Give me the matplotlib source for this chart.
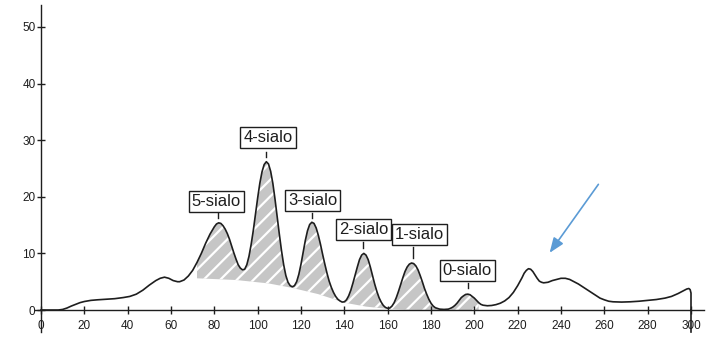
import matplotlib.pyplot as plt

plt.rcParams['font.family'] = ['Liberation Sans', 'DejaVu Sans']
plt.rcParams['hatch.linewidth'] = 1.6

# chromatogram trace (retention time vs signal)
time = [0, 8, 10, 12, 14, 16, 18, 20, 23, 26, 30, 34, 38, 41, 44, 47, 50, 53, 55, 57, 59, 61, 63,
        64, 66, 68, 70, 72, 74, 76, 78, 80, 81, 82, 83, 84, 85, 86, 87, 88, 89, 90, 91, 92, 93, 94, 95,
        96, 97, 98, 99, 100, 101, 102, 103, 104, 105, 106, 107, 108, 109, 110, 111, 112, 113, 114, 115, 116, 117,
        118, 119, 120, 121, 122, 123, 124, 125, 126, 127, 128, 129, 130, 131, 132, 133, 134, 135, 136, 137, 138, 139, 140,
        141, 142, 143, 144, 145, 146, 147, 148, 149, 150, 151, 152, 153, 154, 155, 156, 157, 158, 159, 160, 161,
        162, 163, 164, 165, 166, 167, 168, 169, 170, 171, 172, 173, 174, 175, 176, 177, 178, 179, 180, 181, 182, 184, 186, 188,
        189, 190, 191, 192, 193, 194, 195, 196, 197, 198, 199, 200, 201, 202, 203, 204, 206, 208, 210, 212, 214, 216, 218,
        220, 222, 223, 224, 225, 226, 227, 228, 229, 230, 231, 232, 234, 236, 238, 240, 242, 244, 246, 248, 250, 252,
        254, 256, 258, 260, 262, 264, 268, 272, 276, 280, 284, 288, 291, 294, 296, 298, 299, 299.6, 300, 300]
signal = [0, 0, 0.1, 0.35, 0.7, 1.0, 1.3, 1.5, 1.7, 1.8, 1.9, 2.0, 2.2, 2.4, 2.8, 3.5, 4.4, 5.2, 5.6, 5.8, 5.6, 5.2, 5.0,
          5.0, 5.3, 6.0, 7.0, 8.4, 10.0, 11.8, 13.4, 14.7, 15.2, 15.4, 15.3, 14.9, 14.3, 13.5, 12.5, 11.3, 10.1, 9.0, 8.0, 7.4, 7.1, 7.2, 8.0,
          9.5, 11.6, 14.1, 17.0, 19.8, 22.4, 24.4, 25.7, 26.2, 25.8, 24.5, 22.4, 19.6, 16.5, 13.4, 10.5, 8.0, 6.1, 4.9, 4.3, 4.1, 4.3,
          5.0, 6.3, 8.1, 10.2, 12.3, 14.0, 15.1, 15.5, 15.3, 14.5, 13.2, 11.6, 9.8, 8.1, 6.5, 5.1, 4.0, 3.1, 2.4, 1.9, 1.6, 1.4, 1.45,
          1.8, 2.5, 3.5, 4.8, 6.2, 7.6, 8.9, 9.7, 10.0, 9.7, 8.9, 7.6, 6.1, 4.6, 3.3, 2.2, 1.4, 0.8, 0.45, 0.3, 0.35,
          0.7, 1.3, 2.2, 3.3, 4.5, 5.7, 6.8, 7.6, 8.1, 8.3, 8.2, 7.8, 7.1, 6.1, 5.0, 3.8, 2.8, 1.9, 1.2, 0.7, 0.4, 0.15, 0.1, 0.15,
          0.3, 0.5, 0.8, 1.2, 1.7, 2.2, 2.5, 2.75, 2.8, 2.7, 2.4, 2.1, 1.7, 1.3, 1.0, 0.85, 0.75, 0.8, 0.95, 1.2, 1.6, 2.2, 3.1,
          4.3, 5.7, 6.5, 7.0, 7.3, 7.2, 6.8, 6.2, 5.6, 5.1, 4.9, 4.8, 4.9, 5.2, 5.4, 5.6, 5.6, 5.4, 5.0, 4.6, 4.1, 3.6,
          3.1, 2.6, 2.1, 1.8, 1.55, 1.45, 1.4, 1.45, 1.55, 1.7, 1.85, 2.1, 2.4, 2.9, 3.3, 3.7, 3.8, 3.6, 3.0, 0]
assert len(time) == len(signal)

# dashed baseline under the sialo peaks (right to left)
base_time = [184, 170, 160, 150, 140, 128, 116, 105, 90, 72]
base_signal = [0, 0.05, 0.2, 0.6, 1.3, 2.8, 3.9, 4.7, 5.3, 5.6]

labels = ['5-sialo', '4-sialo', '3-sialo', '2-sialo', '1-sialo', '0-sialo']
label_x = [81, 104.8, 125.3, 148.8, 174.7, 196.8]
label_y = [19.1, 30.4, 19.4, 14.2, 13.3, 7.0]
stem_x = [81.7, 104, 125.3, 148.8, 171.6, 197]
stem_top = [17.1, 27.9, 17.1, 12.1, 11.1, 4.8]
stem_bot = [16.3, 27.0, 16.3, 11.0, 9.2, 3.9]

xticks = list(range(0, 301, 20))
yticks = list(range(0, 51, 10))

ink = '#1e1e1e'

fig = plt.figure(figsize=(7.11, 3.37), dpi=100)
ax = fig.add_axes([0, 0, 1, 1])
ax.set_xlim(-18.92, 309.23)
ax.set_ylim(-4.77, 54.77)

# hatched areas for sialo peaks
i0 = time.index(72)
i1 = time.index(184)
ax.fill(time[i0:i1 + 1] + base_time, signal[i0:i1 + 1] + base_signal,
        facecolor='#c6c6c6', edgecolor='white', hatch='//', linewidth=0, zorder=1)
j0 = time.index(189)
j1 = time.index(202)
ax.fill(time[j0:j1 + 1] + [202, 189], signal[j0:j1 + 1] + [0, 0],
        facecolor='#c6c6c6', edgecolor='white', hatch='//', linewidth=0, zorder=1)

ax.plot(time, signal, color=ink, lw=1.2, zorder=3)
ax.plot([300, 300], [0, -3.8], color=ink, lw=1.2, zorder=3, clip_on=False)

# axes drawn through the origin
for s in ['top', 'right']:
    ax.spines[s].set_visible(False)
ax.spines['left'].set_position(('data', 0))
ax.spines['bottom'].set_position(('data', 0))
ax.spines['left'].set_bounds(-3.8, 53.8)
ax.spines['bottom'].set_bounds(-2.8, 306)
for s in ['left', 'bottom']:
    ax.spines[s].set_color(ink)
    ax.spines[s].set_linewidth(1.0)
ax.set_xticks(xticks)
ax.set_yticks(yticks)
ax.tick_params(direction='inout', length=6, width=1.0, color=ink,
               labelsize=8.5, labelcolor=ink)
ax.tick_params(axis='x', pad=4)
ax.tick_params(axis='y', pad=1)

for name, x, y in zip(labels, label_x, label_y):
    ax.text(x, y, name, ha='center', va='center', fontsize=12, color=ink, zorder=5,
            bbox=dict(boxstyle='square,pad=0.18', fc='white', ec=ink, lw=1.0))
for x, y0, y1 in zip(stem_x, stem_top, stem_bot):
    ax.plot([x, x], [y0, y1], color=ink, lw=1.0, zorder=4)

ax.annotate('', xy=(234.0, 9.7), xytext=(258.0, 22.6),
            arrowprops=dict(arrowstyle='-|>,head_length=0.9,head_width=0.35',
                            color='#5b9bd5', lw=1.2))

plt.savefig('out.png', dpi=100)
plt.close()
